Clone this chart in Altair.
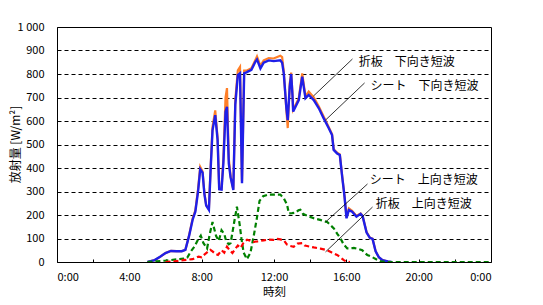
import altair as alt
import pandas as pd

# ---- data ----
down_t = [5.0, 5.4, 5.7, 6.0, 6.3, 6.6, 6.9, 7.1, 7.3, 7.5, 7.65, 7.8, 7.92, 8.05, 8.15, 8.25, 8.4, 8.5,
          8.6, 8.75, 8.88, 8.97, 9.1, 9.2, 9.32, 9.4, 9.5, 9.6, 9.75, 9.86, 10.0, 10.12, 10.23, 10.35,
          10.5, 10.75, 10.97, 11.06, 11.25, 11.43, 11.71, 11.98, 12.35, 12.45, 12.54, 12.69, 12.76,
          12.87, 12.95, 13.02, 13.06, 13.19, 13.37, 13.56, 13.74, 13.92, 14.2, 14.48, 14.75, 15.03,
          15.21, 15.3, 15.49, 15.64, 15.77, 15.9, 16.01, 16.14, 16.32, 16.56, 16.79, 16.9, 17.12,
          17.3, 17.45, 17.62, 17.8, 18.0, 18.3, 18.5]
sheet_down = [0, 8, 22, 38, 47, 46, 46, 52, 110, 180, 214, 300, 395, 380, 290, 240, 222, 400,
              560, 625, 520, 310, 308, 420, 640, 660, 420, 360, 306, 670, 795, 803, 335, 803,
              808, 818, 852, 862, 824, 848, 858, 855, 858, 848, 803, 650, 604,
              746, 800, 711, 640, 661, 689, 789, 697, 711, 689, 654, 611, 569,
              540, 477, 462, 455, 363, 278, 186, 221, 214, 193, 205, 195, 125,
              103, 98, 45, 20, 8, 2, 0]
folded_down = [0, 8, 22, 38, 47, 46, 46, 52, 112, 185, 220, 310, 405, 385, 295, 242, 225, 410,
               575, 645, 530, 315, 312, 440, 700, 740, 440, 365, 310, 690, 815, 830, 345, 815,
               815, 825, 860, 875, 835, 858, 868, 866, 878, 872, 810, 640, 570,
               760, 806, 718, 648, 668, 697, 803, 705, 725, 700, 662, 618, 573,
               544, 480, 465, 458, 366, 280, 190, 228, 218, 196, 207, 197, 127,
               104, 99, 46, 20, 8, 2, 0]

sheet_up_t = [5.0, 5.5, 6.0, 6.5, 7.0, 7.2, 7.4, 7.6, 7.8, 7.95, 8.1, 8.3, 8.45, 8.6, 8.8, 8.95,
              9.1, 9.25, 9.35, 9.5, 9.6, 9.8, 9.95, 10.1, 10.2, 10.32, 10.5, 10.7, 10.9, 11.06,
              11.2, 11.4, 11.7, 12.0, 12.35, 12.55, 12.72, 12.82, 13.0, 13.19, 13.35, 13.46,
              13.6, 13.74, 14.0, 14.2, 14.6, 14.94, 15.15, 15.31, 15.5, 15.68, 15.85, 16.05,
              16.25, 16.42, 16.7, 16.88, 17.0, 17.16, 17.4, 17.7, 17.9, 18.2, 24.0]
sheet_up = [0, 3, 6, 10, 14, 18, 45, 65, 95, 112, 80, 58, 120, 170, 110, 90,
            135, 120, 90, 75, 80, 170, 235, 160, 100, 40, 12, 40, 120, 190,
            260, 280, 287, 287, 287, 270, 245, 207, 208, 210, 220, 222,
            205, 200, 192, 186, 178, 170, 155, 143, 120, 100, 75, 58,
            58, 60, 55, 50, 40, 30, 22, 10, 3, 0, 0]

folded_up_t = [6.0, 6.5, 7.0, 7.5, 7.83, 8.0, 8.2, 8.48, 8.6, 8.75, 8.9, 9.1, 9.25, 9.4, 9.55,
               9.7, 9.85, 10.0, 10.15, 10.3, 10.51, 10.7, 10.88, 11.1, 11.43, 11.7, 11.98, 12.2,
               12.35, 12.55, 12.72, 12.9, 13.09, 13.3, 13.56, 13.7, 13.83, 14.2, 14.57, 14.94,
               15.2, 15.49, 15.7, 15.86, 16.0, 16.2]
folded_up = [0, 3, 8, 12, 23, 20, 35, 52, 45, 35, 30, 50, 40, 65, 50,
             38, 55, 70, 60, 80, 95, 90, 86, 88, 92, 95, 94, 98,
             96, 92, 74, 68, 65, 78, 80, 70, 68, 62, 57, 50,
             40, 30, 18, 8, 2, 0]

ann_text = ["折板　下向き短波", "シート　下向き短波", "シート　上向き短波", "折板　上向き短波"]
ann_x = [16.68, 17.34, 17.29, 17.62]
ann_y = [851, 749, 349, 247]
lead_x1 = [16.34, 17.01, 17.17, 17.45]
lead_y1 = [864, 762, 332, 234]
lead_x2 = [14.18, 14.85, 14.85, 14.85]
lead_y2 = [706, 604, 170, 43]

y_ticks = list(range(0, 1001, 100))
x_ticks = list(range(0, 25, 2))

FONT = "Noto Sans CJK JP"

xscale = alt.Scale(domain=[0, 24], nice=False, zero=False)
yscale = alt.Scale(domain=[0, 1000], nice=False)

xaxis = alt.Axis(values=x_ticks, title="時刻", grid=False, domain=False,
                 offset=-3, tickSize=3, tickColor="black",
                 labelExpr="datum.value % 4 == 0 ? (datum.value % 24) + ':00' : ''",
                 labelOverlap=False, labelPadding=9, labelFont=FONT, labelFontSize=11,
                 labelColor="black", titleFont=FONT, titleFontSize=11.5, titleFontWeight="normal",
                 titleColor="black", titlePadding=4)
yaxis = alt.Axis(values=y_ticks, title="放射量 [W/m²]", grid=True, gridDash=[4, 3],
                 gridColor="black", gridOpacity=1, gridWidth=1, domain=False, tickSize=0,
                 labelExpr="datum.value == 1000 ? '1 000' : datum.label", labelPadding=13,
                 labelFont=FONT, labelFontSize=11, labelColor="black",
                 titleFont=FONT, titleFontSize=12, titleFontWeight="normal", titleColor="black",
                 titleX=-42, titleY=117, titleAngle=270, titleAlign="center", titleBaseline="middle")


def X(field):
    return alt.X(field, type="quantitative", scale=xscale, axis=xaxis)


def Y(field):
    return alt.Y(field, type="quantitative", scale=yscale, axis=yaxis)


def line_layer(t, v, color, width, dash=None):
    df = pd.DataFrame({"t": t, "v": v})
    kw = dict(color=color, strokeWidth=width, clip=True)
    if dash:
        kw["strokeDash"] = dash
    return alt.Chart(df).mark_line(**kw).encode(x=X("t"), y=Y("v"))


orange = line_layer(down_t, folded_down, "#FF7F27", 2.2)
blue = line_layer(down_t, sheet_down, "#1F1FE8", 2.4)
green = line_layer(sheet_up_t, sheet_up, "#008000", 2.2, dash=[5, 3])
red = line_layer(folded_up_t, folded_up, "#FF0000", 2.2, dash=[5, 3])

ann_df = pd.DataFrame({"text": ann_text, "x": ann_x, "y": ann_y,
                       "x1": lead_x1, "y1": lead_y1, "x2": lead_x2, "y2": lead_y2})
leaders = alt.Chart(ann_df).mark_rule(color="black", strokeWidth=0.8).encode(
    x=X("x1"), y=Y("y1"), x2="x2:Q", y2="y2:Q")
labels = alt.Chart(ann_df).mark_text(align="left", baseline="middle", font=FONT,
                                      fontSize=12, color="black").encode(
    x=X("x"), y=Y("y"), text="text:N")

chart = alt.layer(orange, blue, green, red, leaders, labels).properties(
    width=434, height=235,
    autosize=alt.AutoSizeParams(type="none"),
    padding={"left": 57, "top": 27, "right": 52, "bottom": 43},
    background="white",
).configure_view(stroke="black", strokeWidth=1)

chart.save("out.html", embed_options={"renderer": "svg", "actions": False})
